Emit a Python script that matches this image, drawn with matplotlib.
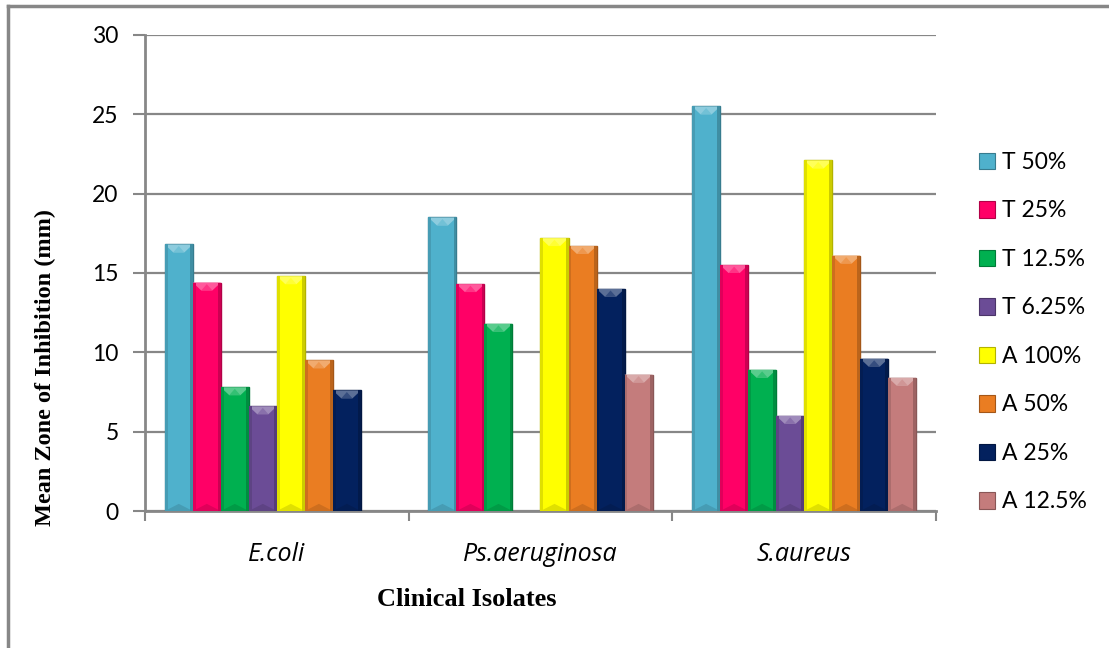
import matplotlib
matplotlib.use("Agg")
import matplotlib.pyplot as plt
import numpy as np
from matplotlib.patches import Patch, Polygon
from matplotlib.lines import Line2D
from matplotlib.colors import to_rgb

# Clinical isolates and treatment groups
isolates = ["E.coli", "Ps.aeruginosa", "S.aureus"]
series_labels = ["T 50%", "T 25%", "T 12.5%", "T 6.25%",
                 "A 100%", "A 50%", "A 25%", "A 12.5%"]

# Mean zone of inhibition (mm) for each treatment, per isolate (0 = no zone)
t50 = [16.8, 18.5, 25.5]
t25 = [14.4, 14.3, 15.5]
t12_5 = [7.8, 11.8, 8.9]
t6_25 = [6.6, 0.0, 6.0]
a100 = [14.8, 17.2, 22.1]
a50 = [9.5, 16.7, 16.1]
a25 = [7.6, 14.0, 9.6]
a12_5 = [0.0, 8.6, 8.4]

series_values = [t50, t25, t12_5, t6_25, a100, a50, a25, a12_5]
colors = ["#4fb1cc", "#ff0066", "#00b050", "#6b4c96",
          "#ffff00", "#ea7d22", "#03215e", "#c47c7c"]

y_ticks = [0, 5, 10, 15, 20, 25, 30]

GRAY = "#878787"
W, H = 1109, 648
fig = plt.figure(figsize=(W / 100, H / 100), dpi=100)
ax = fig.add_axes([145 / W, 1 - 511 / H, (936 - 145) / W, (511 - 35) / H])


def shade(c, f):
    r, g, b = to_rgb(c)
    if f >= 0:
        return (r + (1 - r) * f, g + (1 - g) * f, b + (1 - b) * f)
    return (r * (1 + f), g * (1 + f), b * (1 + f))


n = len(series_values)
group_w = 0.85
bw = group_w / n
x = np.arange(len(isolates))
bevel = 0.5  # depth of the top bevel, in data units

for i, (vals, col) in enumerate(zip(series_values, colors)):
    pos = x - group_w / 2 + bw * (i + 0.5)
    bars = ax.bar(pos, vals, width=bw, color=col,
                  edgecolor=shade(col, -0.3), linewidth=1.0, zorder=3)
    for b, v in zip(bars, vals):
        if v <= 0:
            b.set_visible(False)
            continue
        x0, w, h = b.get_x(), b.get_width(), b.get_height()
        # light bevel on the top face, darker bevel at the base
        ax.add_patch(Polygon([(x0, h), (x0 + w, h), (x0 + w - w * 0.3, h - bevel),
                              (x0 + w * 0.3, h - bevel)], closed=True,
                             facecolor=shade(col, 0.35), edgecolor="none", zorder=4))
        ax.add_patch(Polygon([(x0 + w * 0.3, h - bevel), (x0 + w * 0.7, h - bevel),
                              (x0 + w / 2, h - bevel * 0.2)], closed=True,
                             facecolor=shade(col, 0.2), edgecolor="none", zorder=4))
        ax.add_patch(Polygon([(x0, 0), (x0 + w, 0), (x0 + w / 2, bevel * 0.9)],
                             closed=True, facecolor=shade(col, -0.12),
                             edgecolor="none", zorder=4))
        # darker side strips
        ax.add_patch(Polygon([(x0, 0), (x0 + w * 0.1, 0), (x0 + w * 0.1, h), (x0, h)],
                             closed=True, facecolor=shade(col, -0.12),
                             edgecolor="none", zorder=4))
        ax.add_patch(Polygon([(x0 + w * 0.9, 0), (x0 + w, 0), (x0 + w, h), (x0 + w * 0.9, h)],
                             closed=True, facecolor=shade(col, -0.2),
                             edgecolor="none", zorder=4))

ax.set_xlim(-0.5, len(isolates) - 0.5)
ax.set_ylim(0, 30)
ax.set_yticks(y_ticks)
ax.set_yticklabels([str(t) for t in y_ticks], fontsize=16.5, family="Lato")
ax.yaxis.grid(True, color=GRAY, linewidth=1.6, zorder=0)
ax.set_axisbelow(True)

ax.set_xticks(x)
ax.set_xticklabels(isolates, fontsize=18, family="Open Sans", style="italic")
ax.set_xticks(np.arange(len(isolates) + 1) - 0.5, minor=True)
ax.tick_params(axis="x", which="major", length=0, pad=22)
ax.tick_params(axis="x", which="minor", length=7, width=1.5, color=GRAY)
ax.tick_params(axis="y", length=9, width=1.5, color=GRAY, pad=10)

for s in ["top", "right"]:
    ax.spines[s].set_visible(False)
for s in ["left", "bottom"]:
    ax.spines[s].set_color(GRAY)
    ax.spines[s].set_linewidth(2)

fig.text(45 / W, 1 - 368 / H, "Mean Zone of Inhibition (mm)", rotation=90,
         ha="center", va="center", fontsize=17.5, fontweight="bold",
         family="Liberation Serif")
fig.text(467 / W, 1 - 600 / H, "Clinical Isolates", ha="center", va="center",
         fontsize=19, fontweight="bold", family="Liberation Serif")

handles = [Patch(facecolor=c, edgecolor=shade(c, -0.3), linewidth=0.8) for c in colors]
fig.legend(handles, series_labels, loc="upper left",
           bbox_to_anchor=(972 / W, 1 - 145 / H), frameon=False,
           prop={"family": "Lato", "size": 16.5},
           handlelength=0.72, handleheight=0.72, handletextpad=0.3,
           labelspacing=1.2, borderaxespad=0, borderpad=0.3)

# outer chart frame (left and top edges)
fig.add_artist(Line2D([8 / W, 8 / W], [0, 1 - 6 / H], color=GRAY, linewidth=2.5,
                      transform=fig.transFigure))
fig.add_artist(Line2D([8 / W, 1], [1 - 6 / H, 1 - 6 / H], color=GRAY, linewidth=2.5,
                      transform=fig.transFigure))

fig.savefig("out.png", dpi=100, facecolor="white")
